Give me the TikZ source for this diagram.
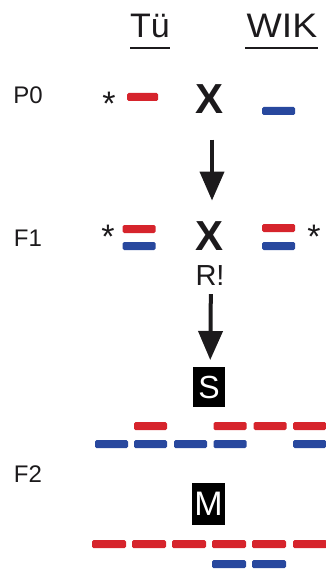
\documentclass[tikz,border=0pt]{standalone}
\usepackage{fontspec}
\setmainfont{Liberation Sans}
\usetikzlibrary{arrows.meta}
\definecolor{ink}{RGB}{28,26,28}
\definecolor{chrred}{RGB}{214,36,44}
\definecolor{chrblue}{RGB}{40,72,158}
\tikzset{
  txt/.style={inner sep=0pt, text=ink, font=\fontsize{24}{28}\selectfont},
  head/.style={inner sep=0pt, text=ink, font=\fontsize{34}{38}\selectfont},
  cross/.style={inner sep=0pt, text=ink, font=\fontsize{42}{46}\selectfont\bfseries},
  star/.style={inner sep=0pt, text=ink, font=\fontsize{34}{38}\selectfont, anchor=north},
  chrbar/.style={rectangle, inner sep=0pt, minimum height=8pt, minimum width=33pt,
    rounded corners=1.5pt},
  rd/.style={chrbar, fill=chrred},
  bd/.style={chrbar, fill=chrblue},
  tag/.style={rectangle, fill=black, inner sep=0pt, text=white,
    font=\fontsize{32}{36}\selectfont},
  bigarrow/.style={draw=ink, line width=4pt,
    -{Triangle[length=29pt,width=24pt]}},
}
\begin{document}
\begin{tikzpicture}[x=1pt,y=-1pt]
\useasboundingbox (0,0) rectangle (325,569);

% column headings
\node[head, anchor=base] (tu) at (150,38) {Tü};
\node[head, anchor=base, xscale=1.1] (wik) at (282,38) {WIK};
\draw[ink, line width=2pt] (130,48) -- (170,48);
\draw[ink, line width=2pt] (245,48) -- (318,48);

% generation labels
\node[txt, anchor=base] (p0) at (28,104) {P0};
\node[txt, anchor=base] (f1) at (28,246) {F1};
\node[txt, anchor=base] (f2) at (28,482) {F2};

% parental cross
\node[star] (p0s) at (109,92) {*};
\node[rd, minimum width=31pt] (p0r) at (142.5,97) {};
\node[cross, anchor=base] (x0) at (210,114) {X};
\node[bd] (p0b) at (278.5,111) {};

% F1 cross
\node[star] (f1sl) at (108,225) {*};
\node[rd] (f1rl) at (139,229) {};
\node[bd] (f1bl) at (139,246) {};
\node[cross, anchor=base] (x1) at (210,250) {X};
\node[rd] (f1rr) at (278.5,228) {};
\node[bd] (f1br) at (278.5,246) {};
\node[star] (f1sr) at (314,225) {*};
\node[txt, anchor=base, font=\fontsize{29}{32}\selectfont] (rr) at (210,285) {R!};

% F2, S class
\node[tag, minimum width=32pt, minimum height=40pt] (sbox) at (209,387) {S};
\node[rd] (s-r1) at (150.5,426) {};
\node[rd] (s-r3) at (230,426) {};
\node[rd] (s-r4) at (270,426) {};
\node[rd] (s-r5) at (309.5,426) {};
\node[bd] (s-b0) at (111.5,444) {};
\node[bd] (s-b1) at (150.5,444) {};
\node[bd] (s-b2) at (190.5,444) {};
\node[bd] (s-b3) at (230,444) {};
\node[bd] (s-b5) at (309.5,444) {};

% F2, M class
\node[tag, minimum width=33pt, minimum height=42pt, font=\fontsize{34}{38}\selectfont] (mbox) at (208.5,504) {M};
\node[rd, minimum width=34pt] (m-r0) at (109,544) {};
\node[rd, minimum width=34pt] (m-r1) at (149,544) {};
\node[rd, minimum width=34pt] (m-r2) at (189,544) {};
\node[rd, minimum width=34pt] (m-r3) at (229,544) {};
\node[rd, minimum width=34pt] (m-r4) at (269,544) {};
\node[rd, minimum width=34pt] (m-r5) at (310,544) {};
\node[bd, minimum width=34pt] (m-b3) at (229,564) {};
\node[bd, minimum width=34pt] (m-b4) at (269,564) {};

% arrows
\draw[bigarrow, shorten <=40pt, shorten >=35pt]
  ([xshift=2pt]x0.center) -- ([xshift=2pt]x1.center);
\draw[bigarrow, shorten <=19pt, shorten >=27pt]
  ([xshift=1pt]rr.center) -- ([xshift=1pt]sbox.center);
\end{tikzpicture}
\end{document}
